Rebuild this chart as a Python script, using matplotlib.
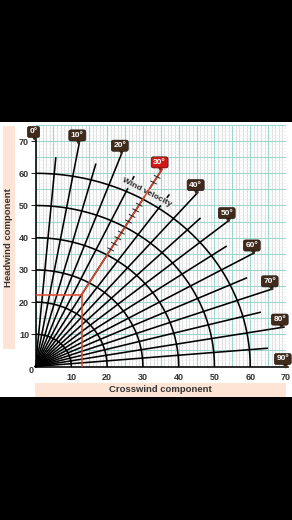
import numpy as np
import matplotlib
matplotlib.use("Agg")
import matplotlib.pyplot as plt
from matplotlib.patches import Rectangle
from matplotlib.transforms import offset_copy

plt.rcParams['font.family'] = ['Liberation Sans', 'DejaVu Sans']

# ---- data ----
arc_speeds = [10, 20, 30, 40, 50, 60]
major_angles = [0, 10, 20, 30, 40, 50, 60, 70, 80, 90]
minor_angles = [5, 15, 25, 35, 45, 55, 65, 75, 85]
angle_labels = ['0°', '10°', '20°', '30°', '40°', '50°', '60°', '70°', '80°', '90°']
major_len = 70.5
minor_len = 65
x_ticks = [10, 20, 30, 40, 50, 60, 70]
y_ticks = [10, 20, 30, 40, 50, 60, 70]
example_angle = 30
example_speed = 25.8
velocity_ticks = [42, 44, 46, 48, 50, 52, 54, 56, 58, 66, 68]

W, H = 292, 520
fig = plt.figure(figsize=(W / 100, H / 100), dpi=100, facecolor='black')

# white panel
fig.patches.append(Rectangle((0, 1 - 397 / H), 1, 275 / H, transform=fig.transFigure,
                             fc='white', ec='none', zorder=-10))
# peach bands
fig.patches.append(Rectangle((3 / W, 1 - 349 / H), 12 / W, 223 / H, transform=fig.transFigure,
                             fc='#fde4d4', ec='none', zorder=-5))
fig.patches.append(Rectangle((35 / W, 1 - 397 / H), 251 / W, 14 / H, transform=fig.transFigure,
                             fc='#fde4d4', ec='none', zorder=-5))
fig.text(9 / W, 1 - 238 / H, 'Headwind component', rotation=90, ha='center', va='center',
         fontsize=6.8, weight='bold', color='#333333')
fig.text(160.5 / W, 1 - 390 / H, 'Crosswind component', ha='center', va='center',
         fontsize=6.8, weight='bold', color='#333333')

ax = fig.add_axes([35.5 / W, 1 - 366.5 / H, 250.5 / W, 241.5 / H])
ax.set_xlim(0, 70)
ax.set_ylim(0, 75)
ax.set_facecolor('white')
for s in ax.spines.values():
    s.set_visible(False)

# graph-paper grid
for v in np.arange(0, 70.01, 1):
    ax.axvline(v, color='#d2d2d2', lw=0.5, zorder=1)
for v in np.arange(0, 75.01, 1):
    ax.axhline(v, color='#eeeeee', lw=0.4, zorder=1)
for v in np.arange(0, 70.01, 5):
    ax.axvline(v, color='#9dd6cb', lw=0.8, zorder=1.5)
for v in np.arange(0, 75.01, 5):
    ax.axhline(v, color='#9dd6cb', lw=0.8, zorder=1.5)

# arcs
th = np.radians(np.linspace(0, 90, 300))
for r in arc_speeds:
    ax.plot(r * np.sin(th), r * np.cos(th), color='black', lw=1.15, zorder=3)

# radial lines
for a in minor_angles:
    t = np.radians(a)
    ax.plot([0, minor_len * np.sin(t)], [0, minor_len * np.cos(t)], color='black', lw=1.15, zorder=3)
for a in major_angles:
    t = np.radians(a)
    ax.plot([0, major_len * np.sin(t)], [0, major_len * np.cos(t)], color='black', lw=1.15, zorder=3,
            clip_on=False)

# example wind (red)
red = '#d9482b'
t = np.radians(example_angle)
cx, cy = example_speed * np.sin(t), example_speed * np.cos(t)
ax.plot([0, cx], [cy, cy], color=red, lw=1.1, zorder=6)
ax.plot([cx, cx], [0, cy], color=red, lw=1.1, zorder=6)
ax.plot([cx, major_len * np.sin(t)], [cy, major_len * np.cos(t)], color=red, lw=1.1, zorder=6)
# tick marks across the velocity line
ux, uy = np.cos(t), -np.sin(t)
for r in velocity_ticks:
    px, py = r * np.sin(t), r * np.cos(t)
    ax.plot([px - 0.9 * ux, px + 0.9 * ux], [py - 0.9 * uy, py + 0.9 * uy], color='#222222',
            lw=0.7, zorder=6)

# wind velocity text
tr = np.radians(30)
tx, ty = 62.3 * np.sin(tr), 62.3 * np.cos(tr)
rot = ax.transData.transform_angles(np.array([-30.0]), np.array([[tx, ty]]))[0]
ax.text(tx, ty, 'Wind velocity', rotation=rot, rotation_mode='anchor', ha='center', va='center',
        fontsize=6.0, weight='bold', color='#2a2a2a', zorder=5,
        bbox=dict(boxstyle='square,pad=0.15', fc='#eeeeee', ec='none', alpha=0.95))

# callout labels
for a, lab in zip(major_angles, angle_labels):
    t = np.radians(a)
    ex, ey = major_len * np.sin(t), major_len * np.cos(t)
    col = '#d01818' if a == example_angle else '#3f2a1c'
    dx = -2.0 - 3.0 * np.sin(t) ** 20
    tri_tr = offset_copy(ax.transData, fig=fig, x=dx * 0.6, y=2.0, units='dots')
    ax.plot([ex], [ey], marker='v', ms=3.5, color=col, transform=tri_tr, clip_on=False, zorder=8)
    ax.annotate(lab, xy=(ex, ey), xytext=(dx, 7.5), textcoords='offset pixels',
                ha='center', va='center', fontsize=6.0, weight='bold', color='white',
                annotation_clip=False, zorder=9,
                bbox=dict(boxstyle='round,pad=0.25,rounding_size=0.25', fc=col, ec='#1a100a', lw=0.4))

# ticks
ax.set_xticks(x_ticks)
ax.set_yticks(y_ticks)
ax.tick_params(axis='x', length=0, pad=4.5, labelsize=6.5, labelcolor='#333333')
ax.tick_params(axis='y', length=3.6, width=0.6, pad=1, labelsize=6.5, labelcolor='#333333')
for lbl in ax.get_xticklabels() + ax.get_yticklabels():
    lbl.set_fontweight('bold')
ax.annotate('0', xy=(0, 0), xytext=(-4, -4), textcoords='offset pixels', ha='center', va='center',
            fontsize=6.5, weight='bold', color='#333333', annotation_clip=False)

fig.savefig('out.png', dpi=100, facecolor='black')
